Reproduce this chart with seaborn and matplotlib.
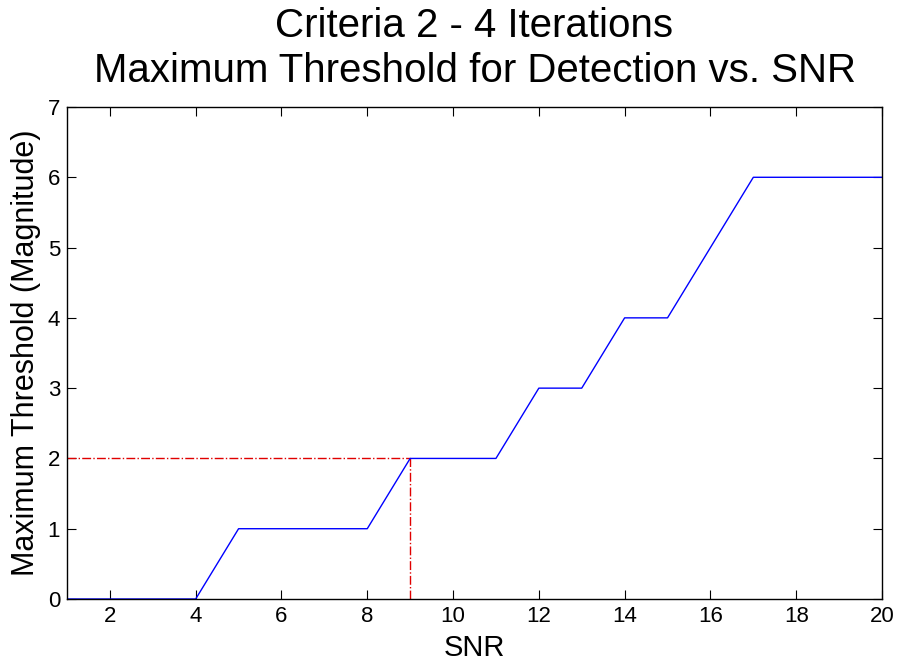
import matplotlib
matplotlib.use("Agg")
import matplotlib.pyplot as plt
import seaborn as sns
import pandas as pd

# Maximum detection threshold per SNR value
snr = [1, 2, 3, 4, 5, 6, 7, 8, 9, 10, 11, 12, 13, 14, 15, 16, 17, 18, 19, 20]
max_threshold = [0, 0, 0, 0, 1, 1, 1, 1, 2, 2, 2, 3, 3, 4, 4, 5, 6, 6, 6, 6]

# Reference operating point marked with dash-dot guides
ref_snr = 9
ref_threshold = 2

x_ticks = [2, 4, 6, 8, 10, 12, 14, 16, 18, 20]
y_ticks = [0, 1, 2, 3, 4, 5, 6, 7]

sns.set_style("ticks")
plt.rcParams["font.family"] = ["Liberation Sans", "DejaVu Sans"]
plt.rcParams["text.color"] = "black"
plt.rcParams["axes.labelcolor"] = "black"

df = pd.DataFrame({"SNR": snr, "Threshold": max_threshold})

fig = plt.figure(figsize=(8.98, 6.65), dpi=100)
ax = fig.add_axes([67 / 898, 1 - 599 / 665, (882 - 67) / 898, (599 - 107) / 665])

sns.lineplot(data=df, x="SNR", y="Threshold", ax=ax, color="#0000ff", linewidth=1.0, zorder=2)

ax.plot([snr[0], ref_snr], [ref_threshold, ref_threshold], color="#e00000",
        linestyle="-.", linewidth=1.0, zorder=1)
ax.plot([ref_snr, ref_snr], [0, ref_threshold], color="#e00000",
        linestyle="-.", linewidth=1.0, zorder=1)

ax.set_xlim(1, 20)
ax.set_ylim(0, 7)
ax.set_xticks(x_ticks)
ax.set_yticks(y_ticks)
ax.tick_params(direction="in", length=6.5, width=0.8, top=True, right=True,
               labelsize=16, colors="black", pad=5)
for sp in ax.spines.values():
    sp.set_visible(True)
    sp.set_linewidth(1.0)
    sp.set_color("black")
    sp.set_zorder(5)

ax.set_xlabel("SNR", fontsize=21, labelpad=5, color="black")
ax.set_ylabel("Maximum Threshold (Magnitude)", fontsize=22, labelpad=5, color="black")

# Two-line title
fig.text(0.5 * (67 + 882) / 898, 1 - 37 / 665, "Criteria 2 - 4 Iterations",
         ha="center", va="baseline", fontsize=29, color="black")
fig.text(0.5 * (67 + 882) / 898, 1 - 82 / 665, "Maximum Threshold for Detection vs. SNR",
         ha="center", va="baseline", fontsize=29, color="black")

fig.savefig("out.png", dpi=100, facecolor="white")
